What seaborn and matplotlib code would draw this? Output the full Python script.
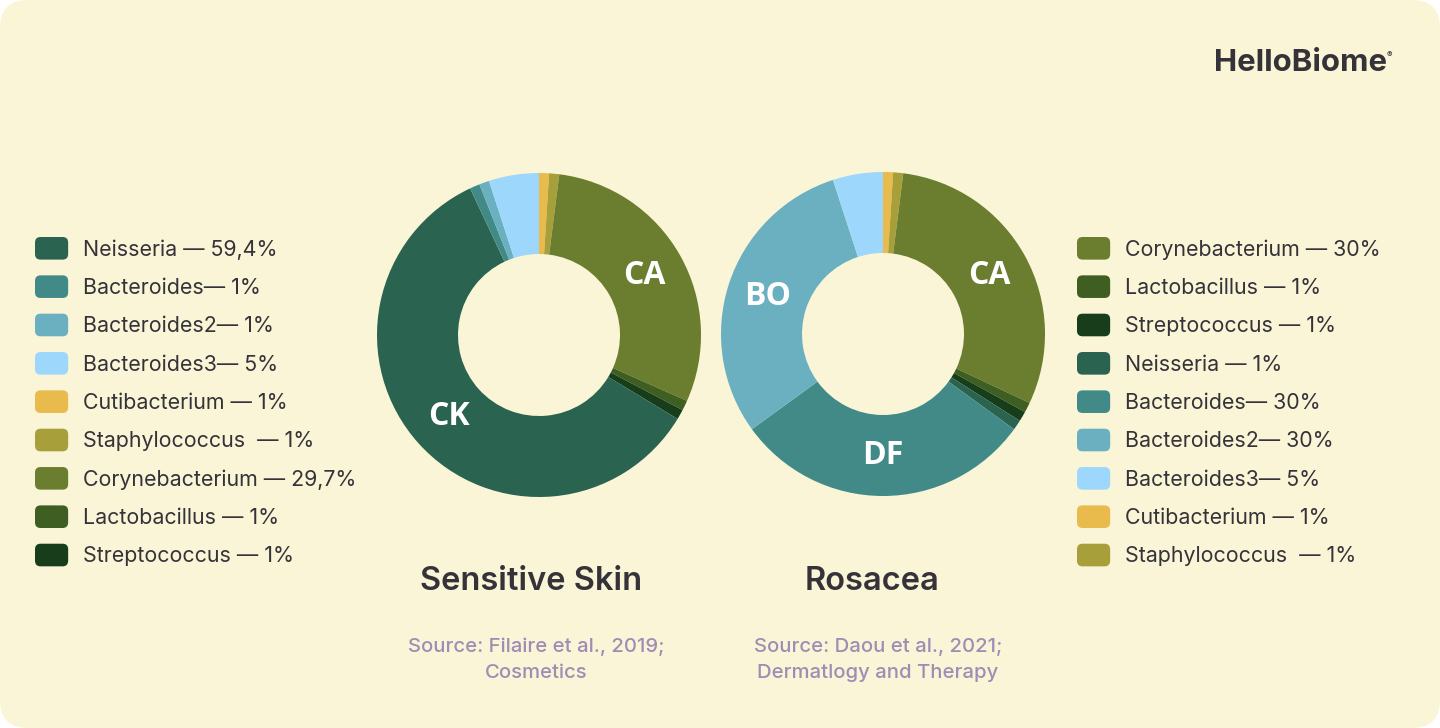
import matplotlib
matplotlib.use("Agg")
import matplotlib.pyplot as plt
from matplotlib.patches import FancyBboxPatch, Patch
from matplotlib.legend_handler import HandlerPatch
import seaborn as sns

# порядок секторов по часовой стрелке, начиная сверху
species = ["Cutibacterium", "Staphylococcus", "Corynebacterium", "Lactobacillus",
           "Streptococcus", "Neisseria", "Bacteroides", "Bacteroides2", "Bacteroides3"]
sensitive_share = [1, 1, 29.7, 1, 1, 59.4, 1, 1, 5]
rosacea_share = [1, 1, 30, 1, 1, 1, 30, 30, 5]
sensitive_tags = ["", "", "CA", "", "", "CK", "", "", ""]
rosacea_tags = ["", "", "CA", "", "", "", "DF", "BO", ""]

species_colors = {
    "Neisseria": "#2a6350",
    "Bacteroides": "#418a87",
    "Bacteroides2": "#6ab0c0",
    "Bacteroides3": "#9dd8fc",
    "Cutibacterium": "#e9bb4c",
    "Staphylococcus": "#a7a03a",
    "Corynebacterium": "#6b7d2e",
    "Lactobacillus": "#3f5e22",
    "Streptococcus": "#173d1b",
}

sensitive_legend_order = ["Neisseria", "Bacteroides", "Bacteroides2", "Bacteroides3",
                          "Cutibacterium", "Staphylococcus", "Corynebacterium",
                          "Lactobacillus", "Streptococcus"]
sensitive_legend_text = ["Neisseria — 59,4%", "Bacteroides— 1%", "Bacteroides2— 1%",
                         "Bacteroides3— 5%", "Cutibacterium — 1%", "Staphylococcus  — 1%",
                         "Corynebacterium — 29,7%", "Lactobacillus — 1%", "Streptococcus — 1%"]
rosacea_legend_order = ["Corynebacterium", "Lactobacillus", "Streptococcus", "Neisseria",
                        "Bacteroides", "Bacteroides2", "Bacteroides3", "Cutibacterium",
                        "Staphylococcus"]
rosacea_legend_text = ["Corynebacterium — 30%", "Lactobacillus — 1%", "Streptococcus — 1%",
                       "Neisseria — 1%", "Bacteroides— 30%", "Bacteroides2— 30%",
                       "Bacteroides3— 5%", "Cutibacterium — 1%", "Staphylococcus  — 1%"]

BG = "#f9f5d6"
DARK = "#35323a"
MUTED = "#a08cb4"
W, H = 1440, 728

sns.set_theme(style="white")
plt.rcParams['font.family'] = ['Inter', 'DejaVu Sans']


class RoundHandler(HandlerPatch):
    def create_artists(self, legend, orig_handle, xdescent, ydescent,
                       width, height, fontsize, trans):
        p = FancyBboxPatch((-xdescent, -ydescent), width, height,
                           boxstyle="round,pad=0,rounding_size=4",
                           facecolor=orig_handle.get_facecolor(),
                           edgecolor="none", transform=trans)
        return [p]


def fx(x):
    return x / W


def fy(y):
    return 1 - y / H


def donut(fig, cx, cy, r, shares, tags):
    ax = fig.add_axes([fx(cx - r), fy(cy + r), 2 * r / W, 2 * r / H])
    cols = [species_colors[s] for s in species]
    wedges, texts = ax.pie(shares, colors=cols, labels=tags, startangle=90,
                           counterclock=False, labeldistance=0.75,
                           wedgeprops=dict(width=0.5, edgecolor="none"),
                           textprops=dict(color="white", fontsize=23,
                                          fontweight="bold",
                                          family=["Open Sans", "DejaVu Sans"]))
    for t in texts:
        t.set_ha("center")
        t.set_va("center")
    ax.set_xlim(-1, 1)
    ax.set_ylim(-1, 1)
    ax.axis("off")
    return ax


def legend(fig, order, text, x, y):
    handles = [Patch(facecolor=species_colors[s]) for s in order]
    fig.legend(handles, text, loc="upper left", bbox_to_anchor=(fx(x), fy(y)),
               frameon=False, fontsize=15.4, labelcolor=DARK,
               handlelength=1.55, handleheight=1.25, handletextpad=0.7,
               labelspacing=0.735, borderpad=0, borderaxespad=0,
               handler_map={Patch: RoundHandler()})


fig = plt.figure(figsize=(14.4, 7.28), dpi=100, facecolor="white")

bg = fig.add_axes([0, 0, 1, 1])
bg.set_xlim(0, W)
bg.set_ylim(0, H)
bg.axis("off")
bg.add_patch(FancyBboxPatch((0, 0), W, H, boxstyle="round,pad=0,rounding_size=28",
                            facecolor=BG, edgecolor="none"))

donut(fig, 539, 335, 162, sensitive_share, sensitive_tags)
donut(fig, 883, 334, 162, rosacea_share, rosacea_tags)

legend(fig, sensitive_legend_order, sensitive_legend_text, 35, 237)
legend(fig, rosacea_legend_order, rosacea_legend_text, 1077, 237)

fig.text(fx(531), fy(581), "Sensitive Skin", ha="center", va="center",
         fontsize=23.5, fontweight="semibold", color=DARK)
fig.text(fx(872), fy(581), "Rosacea", ha="center", va="center",
         fontsize=23.5, fontweight="semibold", color=DARK)
fig.text(fx(536), fy(660), "Source: Filaire et al., 2019;\nCosmetics", ha="center",
         va="center", fontsize=14.6, color=MUTED, linespacing=1.55, fontweight="medium")
fig.text(fx(878), fy(660), "Source: Daou et al., 2021;\nDermatlogy and Therapy", ha="center",
         va="center", fontsize=14.6, color=MUTED, linespacing=1.55, fontweight="medium")

fig.text(fx(1214), fy(63), "HelloBiome", ha="left", va="center",
         fontsize=22.4, fontweight="bold", color=DARK)
fig.text(fx(1387), fy(55), "®", ha="left", va="center", fontsize=6, color=DARK)

fig.savefig("out.png", dpi=100, facecolor="white")
